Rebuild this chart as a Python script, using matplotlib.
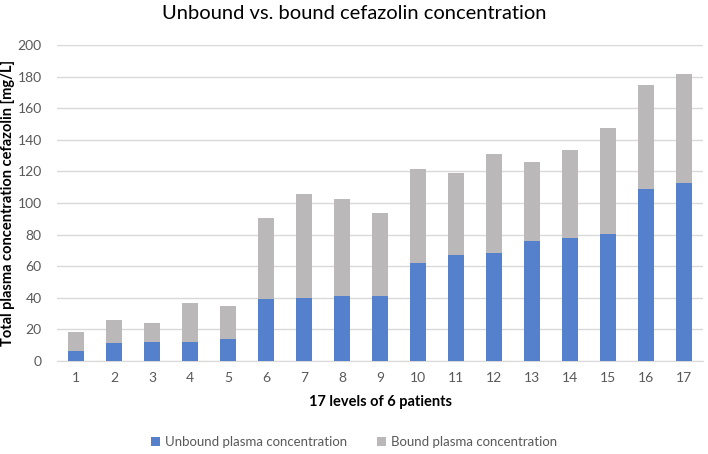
import matplotlib
matplotlib.use("Agg")
import matplotlib.pyplot as plt
import numpy as np

plt.rcParams['font.family'] = ['Lato', 'DejaVu Sans']

categories = [str(i) for i in range(1, 18)]
unbound = [6.1, 11.2, 12.0, 12.0, 14.1, 39.0, 39.9, 40.9, 41.1, 62.2, 67.1, 68.1, 76.2, 78.1, 80.2, 108.9, 112.9]
bound = [12.0, 14.8, 12.0, 24.9, 20.9, 51.7, 65.8, 61.8, 52.8, 59.5, 51.7, 62.7, 49.5, 55.7, 67.5, 65.8, 68.7]
yticks = [0, 20, 40, 60, 80, 100, 120, 140, 160, 180, 200]

blue = '#5580CB'
grey = '#BAB8B9'
txt = '#595959'

fig = plt.figure(figsize=(7.08, 4.54), dpi=100)
ax = fig.add_axes([0.0805, 0.2048, 0.9125, 0.6961])
x = np.arange(len(categories))
ax.bar(x, unbound, width=0.4, color=blue, label='Unbound plasma concentration', zorder=3)
ax.bar(x, bound, width=0.4, bottom=unbound, color=grey, label='Bound plasma concentration', zorder=3)

ax.set_xlim(-0.5, len(categories) - 0.5)
ax.set_ylim(0, 200)
ax.set_yticks(yticks)
ax.set_xticks(x)
ax.set_xticklabels(categories)
ax.grid(axis='y', color='#D9D9D9', linewidth=1, zorder=0)
for s in ['top', 'right', 'left']:
    ax.spines[s].set_visible(False)
ax.spines['bottom'].set_color('#D9D9D9')
ax.tick_params(axis='both', length=0, labelsize=10, colors=txt, pad=8)
ax.tick_params(axis='y', pad=11)

ax.set_xlabel('17 levels of 6 patients', fontsize=10.5, fontweight='bold', color='#000000', labelpad=8)
ax.set_ylabel('Total plasma concentration cefazolin [mg/L]', fontsize=10.5, fontweight='bold', color='#000000')
ax.yaxis.set_label_coords(-0.0655, 0.5)
fig.suptitle('Unbound vs. bound cefazolin concentration', fontsize=14.5, color='#000000', y=0.99)

leg = fig.legend(loc='center', bbox_to_anchor=(0.5, 0.026), ncol=2, frameon=False,
                 fontsize=9.5, handlelength=0.7, handleheight=0.7, columnspacing=2.2, handletextpad=0.4)
for t in leg.get_texts():
    t.set_color(txt)

fig.savefig('out.png', dpi=100)
